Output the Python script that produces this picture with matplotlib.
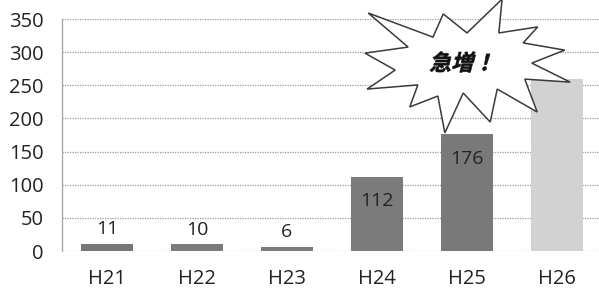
import matplotlib
matplotlib.use('Agg')
import matplotlib.pyplot as plt
import matplotlib.transforms as mtransforms
from matplotlib.patches import Polygon, PathPatch
from matplotlib.textpath import TextPath
from matplotlib.font_manager import FontProperties

plt.rcParams['font.family'] = ['Open Sans', 'Noto Sans CJK JP', 'DejaVu Sans']

# data
years = ['H21', 'H22', 'H23', 'H24', 'H25', 'H26']
counts = [11, 10, 6, 112, 176, 260]
show_label = [True, True, True, True, True, False]
bar_colors = ['#777777', '#7a7a7a', '#7a7a7a', '#7b7b7b', '#797979', '#d2d2d2']
yticks = [0, 50, 100, 150, 200, 250, 300, 350]
callout_text = '急増！'

# starburst outline (axes fraction)
burst = [(0.815, 1.086), (0.809, 0.940), (0.881, 0.966), (0.854, 0.897),
         (0.931, 0.866), (0.870, 0.810), (0.941, 0.728), (0.857, 0.741),
         (0.880, 0.599), (0.806, 0.698), (0.793, 0.556), (0.743, 0.681),
         (0.709, 0.509), (0.696, 0.668), (0.644, 0.621), (0.659, 0.716),
         (0.565, 0.698), (0.617, 0.780), (0.561, 0.853), (0.641, 0.879),
         (0.567, 1.026), (0.687, 0.922), (0.706, 1.022), (0.750, 0.940)]

fig = plt.figure(figsize=(5.99, 2.93), dpi=100)
ax = fig.add_axes([0.1035, 0.1433, 0.9015, 0.7918])

x = list(range(len(years)))
bars = ax.bar(x, counts, width=0.57, color=bar_colors, zorder=2)

for b, v, show in zip(bars, counts, show_label):
    if not show:
        continue
    cx = b.get_x() + b.get_width() / 2
    if v < 50:
        ax.annotate(str(v), (cx, v), xytext=(0, 4), textcoords='offset points',
                    ha='center', va='bottom', fontsize=14, color='#222222', zorder=3)
    else:
        ax.annotate(str(v), (cx, v), xytext=(0, -17.5), textcoords='offset points',
                    ha='center', va='center', fontsize=14, color='#222222', zorder=3)

ax.set_xlim(-0.5, 5.5)
ax.set_ylim(0, 350)
ax.set_yticks(yticks)
ax.set_xticks(x)
ax.set_xticklabels(years)
ax.tick_params(axis='both', length=0, labelsize=14.5, colors='#222222')
ax.tick_params(axis='x', pad=13)
ax.tick_params(axis='y', pad=13)
ax.yaxis.grid(True, linestyle=(0, (1, 1)), color='#999999', linewidth=0.9, zorder=0)
ax.set_axisbelow(True)
for s in ['top', 'right', 'bottom']:
    ax.spines[s].set_visible(False)
ax.spines['left'].set_color('#aaaaaa')
ax.spines['left'].set_linewidth(1.0)

# callout starburst
star = Polygon(burst, closed=True, transform=ax.transAxes, facecolor='white',
               edgecolor='#3a3a3a', linewidth=1.1, clip_on=False, zorder=5)
ax.add_patch(star)

fp = FontProperties(family='Noto Sans CJK JP', weight='bold')
tp = TextPath((0, 0), callout_text, size=22, prop=fp)
ext = tp.get_extents()
tr = (mtransforms.Affine2D()
      .translate(-(ext.x0 + ext.x1) / 2, -(ext.y0 + ext.y1) / 2)
      .skew_deg(14, 0)
      + mtransforms.ScaledTranslation(0.737, 0.815, ax.transAxes))
ax.add_patch(PathPatch(tp, transform=tr, facecolor='#111111', edgecolor='#111111',
                       linewidth=0.4, clip_on=False, zorder=6))

fig.savefig('out.png', dpi=100)
